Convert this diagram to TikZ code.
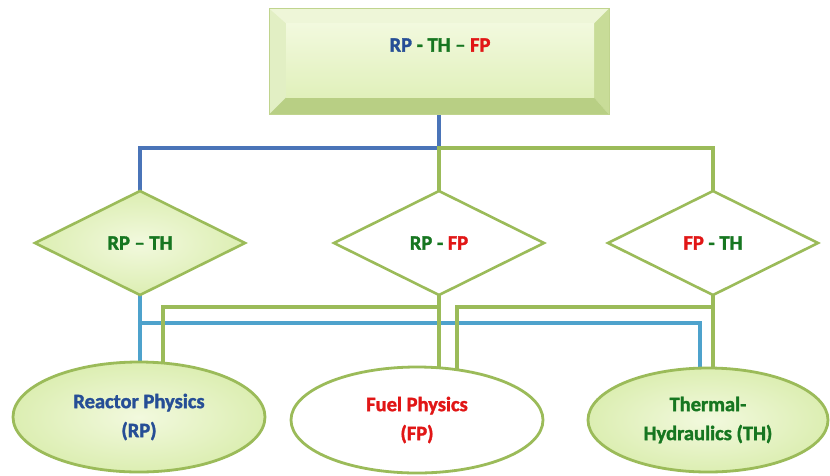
\documentclass[tikz,border=0pt]{standalone}
\usepackage{fontspec}
\setmainfont{Carlito}[BoldFeatures={FakeBold=1.6}]
\usetikzlibrary{shapes.geometric,backgrounds,calc}

% palette
\definecolor{txtBlue}{RGB}{38,78,150}
\definecolor{txtGreen}{RGB}{22,118,32}
\definecolor{txtRed}{RGB}{225,22,22}
\definecolor{wireBlueC}{RGB}{74,116,184}
\definecolor{wireCyanC}{RGB}{78,162,204}
\definecolor{wireGreenC}{RGB}{155,187,89}
\definecolor{leafLight}{RGB}{242,249,222}
\definecolor{leafDark}{RGB}{220,238,178}
\definecolor{bevelTop}{RGB}{238,246,216}
\definecolor{bevelLeft}{RGB}{226,239,196}
\definecolor{bevelRight}{RGB}{200,220,152}
\definecolor{bevelBottom}{RGB}{184,207,132}
\definecolor{bevelEdge}{RGB}{192,212,142}

\pgfdeclarelayer{paper}
\pgfsetlayers{paper,background,main}

\tikzset{
  labelfont/.style={font=\bfseries\fontsize{20.5}{29}\selectfont},
  panel/.style={rectangle, draw=bevelEdge, line width=0.8pt, fill=bevelTop,
    minimum width=340pt, minimum height=106pt, inner sep=0pt, outer sep=0pt},
  junction/.style={diamond, draw=wireGreenC, line width=2.6pt,
    minimum width=210pt, minimum height=104pt, inner sep=0pt, outer sep=0pt,
    shape aspect=2, labelfont},
  discipline/.style={ellipse, draw=wireGreenC, line width=2.8pt, inner sep=0pt,
    outer sep=0pt, align=center, labelfont},
  leaffill/.style={inner color=leafLight, outer color=leafDark},
  wireBlue/.style={draw=wireBlueC, line width=3.2pt},
  wireCyan/.style={draw=wireCyanC, line width=3.2pt},
  wireGreen/.style={draw=wireGreenC, line width=3.4pt},
}

\begin{document}
\begin{tikzpicture}[x=1pt,y=-1pt]
\useasboundingbox (0,0) rectangle (830,475);
\begin{pgfonlayer}{paper}
  \fill[white] (0,0) rectangle (830,475);
\end{pgfonlayer}

% bevelled header panel
\node[panel] (top) at (439,61.5) {};
\coordinate (fnw) at ($(top.north west)+(17,15)$);
\coordinate (fne) at ($(top.north east)+(-15,15)$);
\coordinate (fse) at ($(top.south east)+(-15,-17)$);
\coordinate (fsw) at ($(top.south west)+(17,-17)$);
\fill[bevelLeft] (top.south west) -- (top.north west) -- (fnw) -- (fsw) -- cycle;
\fill[bevelRight] (top.north east) -- (top.south east) -- (fse) -- (fne) -- cycle;
\fill[bevelBottom] (top.south east) -- (top.south west) -- (fsw) -- (fse) -- cycle;
\shade[top color=leafLight, bottom color=leafDark!80!leafLight] (fnw) rectangle (fse);
\draw[bevelEdge, line width=0.8pt] (top.north west) rectangle (top.south east);
\node[labelfont, text=txtGreen] (toplabel) at (440,45)
  {\textcolor{txtBlue}{RP} - TH -- \textcolor{txtRed}{FP}};

% pairwise coupling diamonds
\node[junction, leaffill, text=txtGreen] (d1) at (140,243) {RP -- TH};
\node[junction, fill=white, text=txtGreen] (d2) at (439,243) {RP - \textcolor{txtRed}{FP}};
\node[junction, fill=white, text=txtGreen] (d3) at (713,243) {\textcolor{txtRed}{FP} - TH};

% discipline ellipses
\node[discipline, leaffill, minimum width=252pt, minimum height=110pt, text=txtBlue]
  (e1) at (139,417) {Reactor Physics\\(RP)};
\node[discipline, fill=white, minimum width=252pt, minimum height=106pt, text=txtRed]
  (e2) at (417,420) {Fuel Physics\\(FP)};
\node[discipline, leaffill, minimum width=240pt, minimum height=104pt, text=txtGreen]
  (e3) at (708,420) {Thermal-\\Hydraulics (TH)};

% bus levels
\coordinate (hub) at (439,148);
\coordinate (busG) at (0,307);
\coordinate (busC) at (0,323);

\begin{pgfonlayer}{background}
  % header to diamonds
  \draw[wireBlue] (top.south) -- (top.south |- hub) -| (d1.north);
  \draw[wireGreen] (d2.north) -- (d2.north |- hub) -| (d3.north);
  % diamonds to ellipses
  \draw[wireCyan] (d1.south) -- (d1.south |- e1.center);
  \draw[wireCyan] (d1.south |- busC) -| ($(e3.center)+(-8,0)$);
  \draw[wireGreen] (d2.south) -- (d2.south |- e2.center);
  \draw[wireGreen] (d2.south |- busG) -| ($(e1.center)+(24,0)$);
  \draw[wireGreen] (d3.south) -- (d3.south |- e3.center);
  \draw[wireGreen] (d3.south |- busG) -| ($(e2.center)+(40,0)$);
\end{pgfonlayer}
\end{tikzpicture}
\end{document}
